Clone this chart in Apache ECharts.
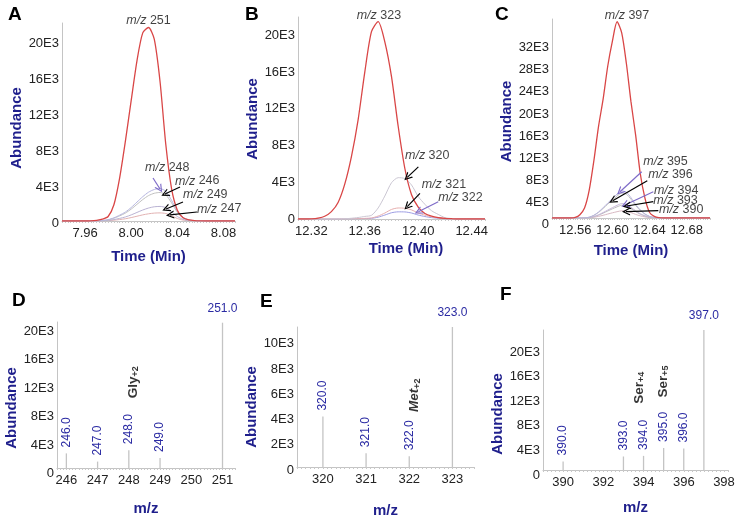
<!DOCTYPE html>
<html><head><meta charset="utf-8">
<script src="https://cdn.jsdelivr.net/npm/echarts@6/dist/echarts.min.js"></script>
<style>html,body{margin:0;padding:0;background:#fff}#c{width:735px;height:518px}</style>
</head><body><div id="c"></div>
<script>
// ---------- DATA ----------
// Panel A chromatogram (time in min, abundance)
const timeA = [7.940,7.945,7.950,7.955,7.960,7.965,7.970,7.975,7.980,7.985,7.990,7.995,8.000,8.005,8.010,8.015,8.020,8.025,8.030,8.035,8.040,8.045,8.050,8.055,8.060,8.065,8.070,8.075,8.080,8.085,8.090];
const mz251A = [0,0,0,0,0,20,80,200,500,1800,4800,8900,13400,17800,20900,21500,20200,15500,8500,3600,1200,350,120,40,10,0,0,0,0,0,0];
const mz248A = [0,0,0,0,0,0,0,50,150,350,650,1000,1500,2100,2700,3200,3500,3600,3300,2300,1100,400,120,30,0,0,0,0,0,0,0];
const mz246A = [0,0,0,0,0,0,0,45,130,310,570,880,1320,1850,2380,2820,3080,3170,2900,2020,970,350,110,25,0,0,0,0,0,0,0];
const mz249A = [0,0,0,0,0,0,0,20,70,160,290,450,680,950,1220,1440,1580,1620,1490,1040,500,180,55,15,0,0,0,0,0,0,0];
const mz247A = [0,0,0,0,0,0,0,10,40,90,160,250,380,530,680,800,880,900,830,580,280,100,30,10,0,0,0,0,0,0,0];

// Panel B chromatogram
const timeB = [12.310,12.315,12.320,12.325,12.330,12.335,12.340,12.345,12.350,12.355,12.360,12.365,12.370,12.375,12.380,12.385,12.390,12.395,12.400,12.405,12.410,12.415,12.420,12.425,12.430,12.435,12.440,12.445,12.450];
const mz323B = [0,0,20,100,300,800,1800,3800,6800,10800,16000,20400,21500,19300,15500,10100,5500,2650,1300,600,300,150,70,30,0,0,0,0,0];
const mz320B = [0,0,0,0,0,0,0,30,80,160,280,400,1200,2500,3950,4500,4400,3700,2450,1600,900,500,150,50,0,0,0,0,0];
const mz321B = [0,0,0,0,0,0,0,10,20,40,70,110,320,650,1040,1200,1170,990,650,420,230,130,40,10,0,0,0,0,0];
const mz322B = [0,0,0,0,0,0,0,5,15,30,50,70,200,430,680,780,770,650,430,270,150,85,25,10,0,0,0,0,0];

// Panel C chromatogram
const timeC = [12.535,12.540,12.545,12.550,12.555,12.560,12.565,12.570,12.575,12.580,12.585,12.590,12.595,12.600,12.605,12.610,12.615,12.620,12.625,12.630,12.635,12.640,12.645,12.650,12.655,12.660,12.665,12.670,12.675,12.680,12.685,12.690,12.695,12.700,12.705];
const mz397C = [0,0,0,0,0,100,600,1800,5000,10300,16500,21500,27500,32000,35500,33500,28000,21000,15000,8000,3600,1000,300,50,0,0,0,0,0,0,0,0,0,0,0];
const mz395C = [0,0,0,0,0,0,0,0,150,490,1080,1860,2700,3530,4310,4900,4660,3680,2450,1470,740,290,100,0,0,0,0,0,0,0,0,0,0,0,0];
const mz396C = [0,0,0,0,0,0,0,0,140,460,1000,1720,2500,3250,3980,4500,4300,3400,2260,1360,680,270,90,0,0,0,0,0,0,0,0,0,0,0,0];
const mz394C = [0,0,0,0,0,0,0,0,80,260,570,990,1430,1870,2290,2600,2470,1950,1300,780,390,160,50,0,0,0,0,0,0,0,0,0,0,0,0];
const mz393C = [0,0,0,0,0,0,0,0,70,230,510,870,1270,1660,2020,2300,2190,1730,1150,690,350,140,50,0,0,0,0,0,0,0,0,0,0,0,0];
const mz390C = [0,0,0,0,0,0,0,0,40,130,290,490,720,940,1140,1300,1240,980,650,390,200,80,30,0,0,0,0,0,0,0,0,0,0,0,0];

// Mass spectra D, E, F
const mzD = [246, 247, 248, 249, 251];
const abD = [2050, 900, 2500, 1400, 20400];
const mzE = [320, 321, 322, 323];
const abE = [4000, 1100, 850, 11100];
const mzF = [390, 393, 394, 395, 396, 397];
const abF = [1400, 2200, 2300, 3600, 3500, 22800];

// ---------- STYLE ----------
const FONT = '"Liberation Sans", Arial, Helvetica, sans-serif';
const NAVY = '#1f1f8c';
const RED = '#d94646';
const PURPLE = '#7e6bc8';
const CHEV = 'path://M0,10L5,0L10,10L8.4,10L5,3.2L1.6,10Z';

const grids = [
  {left: 62, top: 23, width: 173, height: 198},
  {left: 298, top: 17, width: 187, height: 202},
  {left: 552, top: 19, width: 158, height: 199},
  {left: 57, top: 322, width: 178, height: 146},
  {left: 297, top: 327, width: 177, height: 140},
  {left: 543, top: 330, width: 185, height: 140}
].map(g => Object.assign({outerBoundsMode: 'none', containLabel: false}, g));

function xAxisCfg(gi, min, max, interval, labelFn, name, nameGap, padLeft) {
  return {
    type: 'value', gridIndex: gi, min: min, max: max, interval: interval,
    axisLine: {show: true, onZero: false, lineStyle: {color: '#c4c4c4', width: 1}},
    axisTick: {show: true, length: 2, lineStyle: {color: '#c8c8c8', width: 1}},
    splitLine: {show: false},
    axisLabel: {fontSize: 13, color: '#222', margin: 6, fontFamily: FONT, formatter: labelFn},
    name: name, nameLocation: 'middle', nameGap: nameGap,
    nameTextStyle: {fontSize: 15, fontWeight: 'bold', color: NAVY, fontFamily: FONT, padding: [0, 0, 0, padLeft || 0]}
  };
}
function yAxisCfg(gi, max, interval, nameGap, shift, labDown) {
  const lbl = {fontSize: 13, color: '#222', margin: 3, fontFamily: FONT,
    formatter: v => v === 0 ? '0' : (Math.round(v) % interval === 0 && v < max ? (Math.round(v) / 1000) + 'E3' : '')};
  if (labDown > 0) { lbl.verticalAlign = 'top'; lbl.lineHeight = labDown * 2; }
  return {
    type: 'value', gridIndex: gi, min: 0, max: max, interval: interval,
    axisLine: {show: true, lineStyle: {color: '#c4c4c4', width: 1}},
    axisTick: {show: false},
    splitLine: {show: false},
    axisLabel: lbl,
    name: 'Abundance', nameLocation: 'middle', nameGap: nameGap, nameRotate: 90,
    nameTextStyle: {fontSize: 15, fontWeight: 'bold', color: NAVY, fontFamily: FONT, padding: [0, shift * 2, 0, 0]}
  };
}
const lab40 = () => v => (Math.round(v * 1000) % 40 === 0 ? v.toFixed(2) : '');
const labInt = step => v => (Math.abs(v - Math.round(v)) < 1e-6 && Math.round(v) % step === 0 ? String(Math.round(v)) : '');

const xAxes = [
  xAxisCfg(0, 7.94, 8.09, 0.0025, lab40(), 'Time (Min)', 28, 0),
  xAxisCfg(1, 12.31, 12.45, 0.0025, lab40(), 'Time (Min)', 22, 29),
  xAxisCfg(2, 12.535, 12.705, 0.0025, lab40(), 'Time (Min)', 25, 0),
  xAxisCfg(3, 245.7, 251.4, 0.1, labInt(1), 'm/z', 33, 0),
  xAxisCfg(4, 319.4, 323.5, 0.1, labInt(1), 'm/z', 36, 0),
  xAxisCfg(5, 389, 398.2, 0.2, labInt(2), 'm/z', 30, 0)
];
const yAxes = [
  yAxisCfg(0, 22000, 4000, 34, 6, 2.5),
  yAxisCfg(1, 22000, 4000, 30, 1, 0),
  yAxisCfg(2, 36000, 4000, 37, 3, 6.5),
  yAxisCfg(3, 20500, 4000, 35, 13, 5.5),
  yAxisCfg(4, 11100, 2000, 35, 10, 3),
  yAxisCfg(5, 22800, 4000, 37, 14, 5)
];

function lineS(gi, times, vals, color, z) {
  return {
    type: 'line', xAxisIndex: gi, yAxisIndex: gi, silent: true, z: z,
    data: times.map((t, i) => [t, vals[i]]),
    showSymbol: false, symbol: 'none', smooth: 0.25,
    lineStyle: {width: z > 3 ? 1.3 : 1, color: color}, itemStyle: {color: color}
  };
}

function annoS(gi, items, arrows) {
  return {
    type: 'scatter', xAxisIndex: gi, yAxisIndex: gi, silent: true, clip: false, z: 6,
    symbolSize: 1, itemStyle: {color: 'rgba(0,0,0,0)'},
    data: items.map(it => {
      const d = {name: it.n, value: it.v};
      if (it.top) d.label = {align: 'center', verticalAlign: 'bottom'};
      if (it.rich) d.label = Object.assign({rotate: 90, align: 'left', verticalAlign: 'middle', formatter: it.rich}, it.lab || {});
      return d;
    }),
    label: {
      show: true, position: 'inside', align: 'left', verticalAlign: 'middle',
      fontSize: 12.5, color: '#111', fontFamily: FONT,
      formatter: p => '{i|m/z} ' + p.name,
      rich: {
        i: {fontStyle: 'italic', fontSize: 12.5, color: '#111', fontFamily: FONT},
        b: {fontWeight: 'bold', fontSize: 13.5, color: '#000', fontFamily: FONT},
        bi: {fontWeight: 'bold', fontStyle: 'italic', fontSize: 13.5, color: '#000', fontFamily: FONT},
        s: {fontWeight: 'bold', fontSize: 9, color: '#000', fontFamily: FONT, verticalAlign: 'bottom'}
      }
    },
    markLine: arrows && arrows.length ? {
      silent: true, animation: false, symbol: ['none', CHEV], symbolSize: 8,
      label: {show: false},
      lineStyle: {width: 1.2, type: 'solid', color: '#000'},
      data: arrows.map(a => [{coord: a.f, lineStyle: {color: a.c, width: 1.2, type: 'solid'}}, {coord: a.t}])
    } : undefined
  };
}

function barS(gi, mz, ab, fontSize) {
  const maxIdx = ab.indexOf(Math.max.apply(null, ab));
  return {
    type: 'bar', xAxisIndex: gi, yAxisIndex: gi, barWidth: 1.3, silent: true,
    itemStyle: {color: '#c4c4c4'},
    data: mz.map((m, i) => {
      const d = {value: [m, ab[i]]};
      if (i === maxIdx) d.label = {rotate: 0, align: 'center', verticalAlign: 'bottom', distance: 8};
      return d;
    }),
    label: {
      show: true, position: 'top', rotate: 90, align: 'left', verticalAlign: 'middle', distance: 6,
      color: '#2b2ba3', fontSize: fontSize, fontFamily: FONT,
      formatter: p => p.value[0].toFixed(1)
    }
  };
}

const series = [
  // A
  lineS(0, timeA, mz247A, '#e2b2b2', 2),
  lineS(0, timeA, mz249A, '#b9b2d2', 2),
  lineS(0, timeA, mz246A, '#c0c0c0', 2),
  lineS(0, timeA, mz248A, '#b4b4de', 2),
  lineS(0, timeA, mz251A, RED, 4),
  annoS(0, [
    {n: '251', v: [8.015, 21500], top: true},
    {n: '248', v: [8.012, 5900]},
    {n: '246', v: [8.038, 4440]},
    {n: '249', v: [8.045, 2890]},
    {n: '247', v: [8.057, 1330]}
  ], [
    {f: [8.0189, 4780], t: [8.0250, 3560], c: PURPLE},
    {f: [8.0423, 3780], t: [8.0293, 3000], c: '#000'},
    {f: [8.0449, 2110], t: [8.0302, 1330], c: '#000'},
    {f: [8.0570, 1000], t: [8.0336, 670], c: '#000'}
  ]),
  // B
  lineS(1, timeB, mz322B, '#9c9ce2', 2),
  lineS(1, timeB, mz321B, '#e6aeae', 2),
  lineS(1, timeB, mz320B, '#cac6d2', 2),
  lineS(1, timeB, mz323B, RED, 4),
  annoS(1, [
    {n: '323', v: [12.3706, 21500], top: true},
    {n: '320', v: [12.3901, 6950]},
    {n: '321', v: [12.4026, 3780]},
    {n: '322', v: [12.4150, 2360]}
  ], [
    {f: [12.4001, 5680], t: [12.3918, 4530], c: '#000'},
    {f: [12.4013, 2800], t: [12.3918, 1340], c: '#000'},
    {f: [12.4150, 1880], t: [12.4001, 790], c: PURPLE}
  ]),
  // C
  lineS(2, timeC, mz390C, '#d8b8c2', 2),
  lineS(2, timeC, mz393C, '#bcbcbc', 2),
  lineS(2, timeC, mz394C, '#c6b6d8', 2),
  lineS(2, timeC, mz396C, '#c2c2c2', 2),
  lineS(2, timeC, mz395C, '#b8b4de', 2),
  lineS(2, timeC, mz397C, RED, 4),
  annoS(2, [
    {n: '397', v: [12.6157, 35500], top: true},
    {n: '395', v: [12.6332, 10180]},
    {n: '396', v: [12.6386, 7780]},
    {n: '394', v: [12.6447, 4940]},
    {n: '393', v: [12.6440, 3130]},
    {n: '390', v: [12.6501, 1450]}
  ], [
    {f: [12.6315, 8370], t: [12.6082, 4760], c: PURPLE},
    {f: [12.6375, 6740], t: [12.6003, 3130], c: '#000'},
    {f: [12.6440, 4760], t: [12.6135, 2350], c: PURPLE},
    {f: [12.6440, 2950], t: [12.6154, 2170], c: '#000'},
    {f: [12.6494, 1320], t: [12.6146, 1140], c: '#000'}
  ]),
  // D, E, F
  barS(3, mzD, abD, 12),
  barS(4, mzE, abE, 12),
  barS(5, mzF, abF, 12),
  annoS(3, [{n: 'Gly', v: [248.13, 9800], rich: '{b|Gly}{s|+2}'}], []),
  annoS(4, [{n: 'Met', v: [322.125, 4370], rich: '{bi|Met}{s|+2}'}], []),
  annoS(5, [
    {n: 'Ser4', v: [393.78, 10800], rich: '{b|Ser}{s|+4}'},
    {n: 'Ser5', v: [394.98, 11800], rich: '{b|Ser}{s|+5}'}
  ], [])
];

const letters = [['A', 8, 5], ['B', 245, 5], ['C', 495, 5], ['D', 12, 291], ['E', 260, 292], ['F', 500, 285]];
const title = letters.map(l => ({
  text: l[0], left: l[1], top: l[2], padding: 0,
  textStyle: {fontSize: 19, fontWeight: 'bold', color: '#000', fontFamily: FONT}
}));

const chart = echarts.init(document.getElementById('c'), null, {renderer: 'canvas'});
chart.setOption({
  animation: false,
  backgroundColor: '#fff',
  textStyle: {fontFamily: FONT},
  title: title,
  grid: grids,
  xAxis: xAxes,
  yAxis: yAxes,
  series: series
});
</script></body></html>
